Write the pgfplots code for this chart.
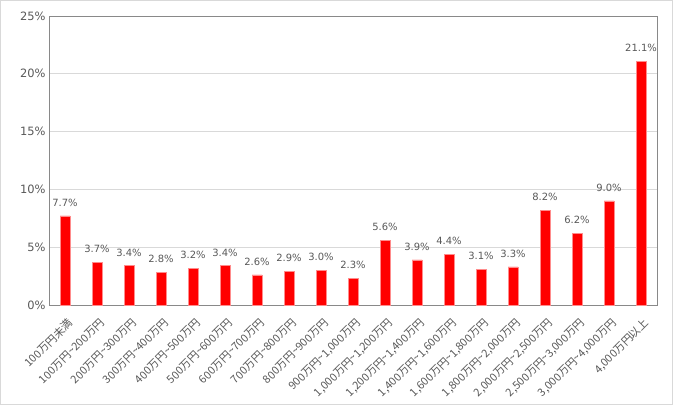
\documentclass[border=0pt]{standalone}
\usepackage{fontspec}
\setmainfont{DejaVu Sans}
\newfontfamily\jp{Noto Sans CJK JP}
\usepackage{pgfplots}
\pgfplotsset{compat=1.18}
\definecolor{txt}{HTML}{595959}
\definecolor{gridc}{HTML}{D9D9D9}
\definecolor{framec}{HTML}{898989}
\definecolor{outer}{HTML}{D9D9D9}
\begin{document}
\begin{tikzpicture}[x=1bp,y=1bp]
\useasboundingbox (0,0) rectangle (673,405);
\fill[white] (0,0) rectangle (673,405);
\draw[outer, line width=1.2bp] (0.6,0.6) rectangle (672.4,404.4);
\begin{axis}[
  at={(49bp,100bp)}, anchor=south west,
  width=608bp, height=289bp, scale only axis,
  xmin=-0.5, xmax=18.5, ymin=0, ymax=25,
  ytick={0,5,10,15,20,25},
  yticklabel={\pgfmathprintnumber{\tick}\%},
  xtick={0,1,...,18},
  xticklabels={
    {100万円未満},
    {100万円\textasciitilde 200万円},
    {200万円\textasciitilde 300万円},
    {300万円\textasciitilde 400万円},
    {400万円\textasciitilde 500万円},
    {500万円\textasciitilde 600万円},
    {600万円\textasciitilde 700万円},
    {700万円\textasciitilde 800万円},
    {800万円\textasciitilde 900万円},
    {900万円\textasciitilde 1,000万円},
    {1,000万円\textasciitilde 1,200万円},
    {1,200万円\textasciitilde 1,400万円},
    {1,400万円\textasciitilde 1,600万円},
    {1,600万円\textasciitilde 1,800万円},
    {1,800万円\textasciitilde 2,000万円},
    {2,000万円\textasciitilde 2,500万円},
    {2,500万円\textasciitilde 3,000万円},
    {3,000万円\textasciitilde 4,000万円},
    {4,000万円以上}},
  xticklabel style={font=\jp\fontsize{11}{12}\selectfont, text=txt, inner sep=0bp, anchor=north east, xshift=2bp, yshift=-12bp, rotate=45},
  yticklabel style={font=\fontsize{11.5}{13}\selectfont, text=txt},
  /pgf/number format/assume math mode=true,
  major tick length=0pt,
  ymajorgrids, grid style={gridc, line width=0.8bp},
  axis line style={framec, line width=0.9bp},
  ybar, bar width=10bp,
  nodes near coords={\pgfmathprintnumber[fixed,precision=1,fixed zerofill]{\pgfplotspointmeta}\%},
  nodes near coords style={font=\fontsize{10}{12}\selectfont, text=txt, anchor=south, yshift=6bp},
  every node near coord/.append style={/pgf/number format/assume math mode=true},
]
\addplot[fill=red, draw=red!45, line width=0.4bp] coordinates {
(0,7.7) (1,3.7) (2,3.4) (3,2.8) (4,3.2) (5,3.4) (6,2.6) (7,2.9) (8,3.0) (9,2.3)
(10,5.6) (11,3.9) (12,4.4) (13,3.1) (14,3.3) (15,8.2) (16,6.2) (17,9.0) (18,21.1)};
\end{axis}
\end{tikzpicture}
\end{document}
